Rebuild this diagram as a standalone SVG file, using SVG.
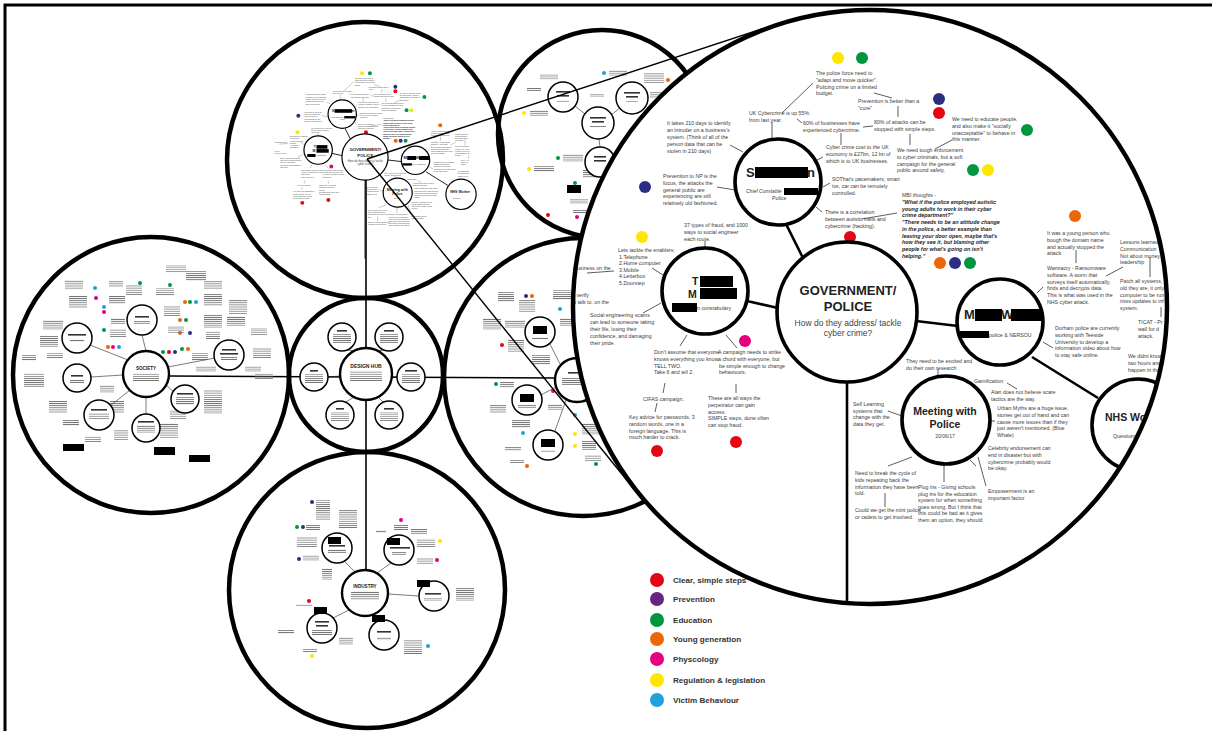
<svg xmlns="http://www.w3.org/2000/svg" width="1212" height="731" viewBox="0 0 1212 731">
<defs>
<style>
.ring{fill:none;stroke:#000;stroke-width:4.5}
.nd{fill:#fff;stroke:#000;stroke-width:1.5}
.hd{fill:#fff;stroke:#000;stroke-width:2.4}
.bn{fill:#fff;stroke:#000;stroke-width:3.6}
.ln{stroke:#000;stroke-width:1.6;fill:none}
.zl{stroke:#000;stroke-width:1.4;fill:none}
.sl{stroke:#222;stroke-width:0.6;fill:none}
.ml{stroke:#000;stroke-width:2.6;fill:none}
.nl{stroke:#333;stroke-width:0.8;fill:none}
.tb{fill:url(#tx);opacity:.85}
.tt{fill:#333}
.n{font-family:"Liberation Sans",Arial,sans-serif;font-size:5.25px;fill:#3c3c3c}
.ni{font-family:"Liberation Sans",Arial,sans-serif;font-size:5px;font-style:italic;fill:#3c3c3c}
.bi{font-family:"Liberation Sans",Arial,sans-serif;font-size:5.4px;font-weight:bold;font-style:italic;fill:#1e1e1e}
.h{font-family:"Liberation Sans",Arial,sans-serif;font-weight:bold;fill:#222}
.hc{font-family:"Liberation Sans",Arial,sans-serif;font-weight:bold;fill:#222;text-anchor:middle}
.sc{font-family:"Liberation Sans",Arial,sans-serif;fill:#444;text-anchor:middle}
.lg{font-family:"Liberation Sans",Arial,sans-serif;font-size:8.1px;font-weight:bold;fill:#333}
.r{fill:#e30613}.b{fill:#2b2e83}.g{fill:#009640}.y{fill:#ffe500}.o{fill:#ec6608}.p{fill:#e5007e}.c{fill:#1fa3dd}.v{fill:#662483}
.k{fill:#000}
</style>
<pattern id="tx" width="8" height="2.1" patternUnits="userSpaceOnUse"><rect width="8" height="0.8" fill="#555"/></pattern>
<clipPath id="magclip"><circle cx="870" cy="307" r="297"/></clipPath>
</defs>

<rect width="1212" height="731" fill="#fff"/>

<!-- page frame -->
<g id="frame"><path d="M5 731V5H1212" fill="none" stroke="#000" stroke-width="3"/></g>

<!-- outer rings -->
<g id="rings">
<circle class="ring" cx="365" cy="160" r="138"/>
<circle class="ring" cx="602" cy="134" r="104"/>
<circle class="ring" cx="151" cy="375" r="138"/>
<circle class="ring" cx="366" cy="375" r="77"/>
<circle class="ring" cx="583" cy="377" r="139"/>
<circle class="ring" cx="367" cy="590" r="138"/>
</g>

<!-- links between the hubs -->
<g id="connectors">
<line class="ln" x1="366" y1="180" x2="366" y2="570"/>
<line class="ln" x1="169" y1="376" x2="556" y2="378"/>
<g class="sl">
<!-- society -->
<line x1="146" y1="351" x2="142" y2="335"/><line x1="128" y1="360" x2="90" y2="345"/><line x1="168" y1="367" x2="215" y2="358"/>
<line x1="123" y1="375" x2="91" y2="377"/><line x1="130" y1="390" x2="110" y2="406"/><line x1="146" y1="397" x2="146" y2="414"/><line x1="166" y1="385" x2="173" y2="391"/>
<!-- hub -->
<line x1="355" y1="351" x2="348" y2="350"/><line x1="378" y1="351" x2="383" y2="350"/><line x1="340" y1="376" x2="328" y2="377"/><line x1="392" y1="376" x2="397" y2="377"/><line x1="354" y1="397" x2="346" y2="402"/><line x1="378" y1="397" x2="383" y2="402"/>
<!-- industry -->
<line x1="355" y1="572" x2="344" y2="561"/><line x1="377" y1="573" x2="391" y2="563"/><line x1="388" y1="594" x2="419" y2="596"/><line x1="374" y1="615" x2="380" y2="620"/><line x1="349" y1="610" x2="333" y2="618"/>
<!-- upper right ring -->
<line x1="575" y1="106" x2="585" y2="114"/><line x1="620" y1="108" x2="611" y2="115"/><line x1="599" y1="139" x2="600" y2="147"/>
<!-- middle right ring -->
<line x1="560" y1="364" x2="550" y2="344"/><line x1="556" y1="387" x2="541" y2="395"/><line x1="566" y1="400" x2="555" y2="431"/>
</g>
</g>

<!-- society cluster -->
<g id="society">
<g id="society-dots">
<circle class="c" cx="95" cy="288" r="2"/><circle class="p" cx="96" cy="298" r="2"/><circle class="c" cx="104" cy="307" r="2"/><circle class="p" cx="104" cy="312" r="2"/><circle class="g" cx="104" cy="330" r="2"/>
<circle class="g" cx="140" cy="283" r="2"/><circle class="g" cx="170" cy="285" r="2"/><circle class="o" cx="185" cy="302" r="2"/><circle class="g" cx="190" cy="302" r="2"/><circle class="c" cx="196" cy="302" r="2"/>
<circle class="o" cx="180" cy="320" r="2"/><circle class="g" cx="186" cy="320" r="2"/><circle class="o" cx="180" cy="333" r="2"/><circle class="b" cx="190" cy="333" r="2"/>
<circle class="o" cx="108" cy="347" r="2"/><circle class="p" cx="113" cy="347" r="2"/><circle class="c" cx="119" cy="347" r="2"/>
<circle class="g" cx="163" cy="352" r="2"/><circle class="r" cx="169" cy="352" r="2"/><circle class="b" cx="175" cy="352" r="2"/><circle class="g" cx="182" cy="349" r="2"/><circle class="o" cx="188" cy="349" r="2"/>
</g>
<g id="society-notes">
<rect class="tb" x="65" y="280" width="18" height="10"/><rect class="tb" x="69" y="296" width="18" height="12"/><rect class="tb" x="43" y="320" width="20" height="10"/><rect class="tb" x="40" y="335" width="18" height="12"/>
<rect class="tb" x="47" y="353" width="16" height="6"/><rect class="tb" x="22" y="355" width="14" height="6"/><rect class="tb" x="24" y="373" width="20" height="14"/><rect class="tb" x="49" y="401" width="18" height="12"/>
<rect class="tb" x="63" y="420" width="16" height="6"/><rect class="tb" x="85" y="436" width="16" height="6"/><rect class="tb" x="109" y="281" width="14" height="6"/><rect class="tb" x="109" y="296" width="16" height="8"/>
<rect class="tb" x="111" y="318" width="14" height="6"/><rect class="tb" x="110" y="329" width="16" height="8"/><rect class="tb" x="126" y="285" width="16" height="10"/><rect class="tb" x="156" y="288" width="18" height="8"/>
<rect class="tb" x="166" y="265" width="20" height="8"/><rect class="tb" x="186" y="271" width="20" height="10"/><rect class="tb" x="204" y="281" width="18" height="8"/><rect class="tb" x="204" y="294" width="18" height="12"/>
<rect class="tb" x="229" y="300" width="18" height="14"/><rect class="tb" x="204" y="314" width="18" height="14"/><rect class="tb" x="227" y="316" width="18" height="10"/><rect class="tb" x="164" y="306" width="16" height="10"/>
<rect class="tb" x="168" y="326" width="16" height="8"/><rect class="tb" x="206" y="331" width="14" height="8"/><rect class="tb" x="251" y="328" width="16" height="8"/><rect class="tb" x="253" y="348" width="18" height="10"/>
<rect class="tb" x="192" y="353" width="16" height="8"/><rect class="tb" x="196" y="366" width="20" height="6"/><rect class="tb" x="245" y="366" width="16" height="6"/><rect class="tb" x="255" y="373" width="18" height="6"/>
<rect class="tb" x="204" y="390" width="18" height="24"/><rect class="tb" x="170" y="410" width="16" height="10"/><rect class="tb" x="110" y="401" width="14" height="12"/><rect class="tb" x="114" y="430" width="14" height="10"/>
<rect class="tb" x="160" y="423" width="18" height="16"/><rect class="tb" x="100" y="385" width="14" height="8"/>
<rect class="k" x="63" y="444" width="21" height="7"/><rect class="k" x="154" y="447" width="21" height="8"/><rect class="k" x="189" y="455" width="21" height="7"/>
</g>
<g id="society-hub"><circle class="hd" cx="146" cy="374" r="23"/><text class="hc" x="146" y="370" font-size="4.6">SOCIETY</text><rect class="tb" x="133" y="373" width="26" height="8"/></g>
<g id="society-statistics"><circle class="nd" cx="142" cy="320" r="15"/><rect class="tt" x="135" y="316" width="14" height="1.6"/><rect class="tb" x="134" y="321" width="16" height="3"/></g>
<g id="society-survey"><circle class="nd" cx="77" cy="338" r="15"/><rect class="tt" x="68" y="334" width="18" height="1.6"/><rect class="tb" x="70" y="339" width="14" height="3"/></g>
<g id="society-workshop"><circle class="nd" cx="229" cy="355" r="15"/><rect class="tt" x="222" y="349" width="14" height="1.6"/><rect class="tt" x="220" y="353" width="18" height="1.6"/><rect class="tb" x="221" y="357" width="16" height="3"/></g>
<g id="society-left"><circle class="nd" cx="77" cy="378" r="14"/><rect class="tt" x="71" y="375" width="12" height="1.6"/><rect class="tb" x="70" y="380" width="14" height="3"/></g>
<g id="society-lowleft"><circle class="nd" cx="99" cy="415" r="15"/><rect class="tt" x="91" y="409" width="16" height="1.6"/><rect class="tb" x="89" y="413" width="20" height="7"/></g>
<g id="society-low"><circle class="nd" cx="146" cy="428" r="14"/><rect class="tt" x="138" y="421" width="16" height="1.6"/><rect class="tb" x="137" y="425" width="18" height="8"/></g>
<g id="society-lowright"><circle class="nd" cx="185" cy="399" r="14"/><rect class="tt" x="177" y="393" width="16" height="1.6"/><rect class="tb" x="176" y="397" width="18" height="8"/></g>
</g>

<!-- design hub cluster -->
<g id="design-hub">
<g id="hub-centre"><circle class="hd" cx="366" cy="374" r="26"/><text class="hc" x="366" y="368" font-size="5">DESIGN HUB</text><rect class="tb" x="350" y="371" width="32" height="10"/></g>
<g id="hub-a"><circle class="nd" cx="342" cy="337" r="14"/><rect class="tt" x="337" y="330" width="10" height="1.6"/><rect class="tb" x="333" y="334" width="18" height="9"/></g>
<g id="hub-b"><circle class="nd" cx="389" cy="337" r="14"/><rect class="tt" x="384" y="330" width="10" height="1.6"/><rect class="tb" x="380" y="334" width="18" height="9"/></g>
<g id="hub-c"><circle class="nd" cx="314" cy="377" r="14"/><rect class="tt" x="310" y="370" width="8" height="1.6"/><rect class="tb" x="305" y="374" width="18" height="9"/></g>
<g id="hub-d"><circle class="nd" cx="411" cy="377" r="14"/><rect class="tt" x="405" y="370" width="12" height="1.6"/><rect class="tb" x="402" y="374" width="18" height="9"/></g>
<g id="hub-e"><circle class="nd" cx="340" cy="415" r="14"/><rect class="tt" x="336" y="408" width="8" height="1.6"/><rect class="tb" x="331" y="412" width="18" height="9"/></g>
<g id="hub-f"><circle class="nd" cx="389" cy="415" r="14"/><rect class="tt" x="384" y="408" width="10" height="1.6"/><rect class="tb" x="380" y="412" width="18" height="9"/></g>
</g>

<!-- industry cluster -->
<g id="industry">
<g id="industry-dots">
<circle class="b" cx="312" cy="502" r="2"/><circle class="g" cx="297" cy="527" r="2"/><circle class="b" cx="303" cy="527" r="2"/><circle class="b" cx="299" cy="559" r="2"/>
<circle class="p" cx="401" cy="520" r="2"/><circle class="y" cx="440" cy="541" r="2"/><circle class="p" cx="437" cy="560" r="2"/><circle class="r" cx="309" cy="601" r="2"/><circle class="y" cx="312" cy="656" r="2"/><circle class="c" cx="428" cy="646" r="2"/>
</g>
<g id="industry-notes">
<rect class="tb" x="316" y="500" width="14" height="20"/><rect class="tb" x="339" y="510" width="18" height="18"/><rect class="tb" x="306" y="524" width="14" height="6"/><rect class="tb" x="297" y="537" width="20" height="10"/>
<rect class="tb" x="303" y="555" width="16" height="6"/><rect class="tb" x="322" y="568" width="10" height="12"/><rect class="tb" x="376" y="530" width="10" height="3"/><rect class="tb" x="394" y="524" width="14" height="6"/>
<rect class="tb" x="411" y="529" width="16" height="5"/><rect class="tb" x="417" y="539" width="18" height="8"/><rect class="tb" x="417" y="558" width="16" height="6"/><rect class="tb" x="456" y="587" width="18" height="14"/>
<rect class="tb" x="296" y="604" width="16" height="3"/><rect class="tb" x="278" y="630" width="16" height="4"/><rect class="tb" x="303" y="648" width="14" height="5"/><rect class="tb" x="339" y="637" width="14" height="8"/>
<rect class="tb" x="404" y="640" width="18" height="14"/>
</g>
<g id="industry-centre"><circle class="hd" cx="365" cy="593" r="23"/><text class="hc" x="365" y="588" font-size="4.6">INDUSTRY</text><rect class="tb" x="351" y="591" width="28" height="9"/></g>
<g id="industry-a"><circle class="nd" cx="337" cy="548" r="15"/><rect class="k" x="328" y="537" width="13" height="7"/><rect class="tt" x="329" y="545" width="16" height="1.6"/><rect class="tb" x="328" y="549" width="18" height="4"/></g>
<g id="industry-b"><circle class="nd" cx="399" cy="550" r="15"/><rect class="k" x="387" y="538" width="13" height="7"/><rect class="tt" x="390" y="547" width="20" height="1.6"/><rect class="tb" x="392" y="552" width="14" height="3"/></g>
<g id="industry-c"><circle class="nd" cx="434" cy="596" r="15"/><rect class="k" x="417" y="580" width="13" height="7"/><rect class="tt" x="425" y="593" width="16" height="1.6"/><rect class="tb" x="424" y="598" width="18" height="3"/></g>
<g id="industry-d"><circle class="nd" cx="384" cy="635" r="15"/><rect class="k" x="372" y="615" width="13" height="7"/><rect class="tt" x="377" y="631" width="14" height="1.6"/><rect class="tb" x="377" y="637" width="14" height="3"/></g>
<g id="industry-e"><circle class="nd" cx="322" cy="628" r="15"/><rect class="k" x="314" y="607" width="13" height="7"/><rect class="tt" x="315" y="621" width="14" height="1.6"/><rect class="tt" x="316" y="625" width="12" height="1.6"/><rect class="tb" x="312" y="630" width="20" height="5"/></g>
</g>

<!-- upper right ring contents -->
<g id="upper-ring">
<circle class="c" cx="604" cy="73" r="2"/><circle class="y" cx="524" cy="113" r="2"/><circle class="g" cx="558" cy="158" r="2"/><circle class="y" cx="529" cy="169" r="2"/><circle class="r" cx="548" cy="215" r="2"/><circle class="p" cx="577" cy="217" r="2"/><circle class="o" cx="668" cy="80" r="2"/><circle class="g" cx="575" cy="183" r="2"/>
<rect class="tb" x="540" y="74" width="18" height="6"/><rect class="tb" x="527" y="88" width="14" height="3"/><rect class="tb" x="609" y="70" width="18" height="6"/><rect class="tb" x="644" y="73" width="20" height="10"/>
<rect class="tb" x="590" y="94" width="14" height="3"/><rect class="tb" x="530" y="110" width="18" height="6"/><rect class="tb" x="563" y="154" width="20" height="8"/><rect class="tb" x="534" y="166" width="20" height="6"/>
<rect class="tb" x="583" y="170" width="14" height="8"/><rect class="tb" x="570" y="199" width="18" height="5"/><rect class="tb" x="573" y="210" width="14" height="3"/><rect class="tb" x="650" y="92" width="18" height="6"/>
<rect class="k" x="567" y="185" width="14" height="8"/>
<g id="upper-a"><circle class="nd" cx="563" cy="97" r="15"/><rect class="tt" x="556" y="91" width="14" height="1.6"/><rect class="tt" x="557" y="95" width="12" height="1.6"/><rect class="tb" x="557" y="100" width="12" height="2"/></g>
<g id="upper-b"><circle class="nd" cx="632" cy="98" r="16"/><rect class="tt" x="624" y="92" width="16" height="1.6"/><rect class="tt" x="626" y="96" width="12" height="1.6"/><rect class="tb" x="626" y="101" width="12" height="2"/></g>
<g id="upper-c"><circle class="nd" cx="598" cy="123" r="16"/><rect class="tt" x="590" y="117" width="16" height="1.6"/><rect class="tt" x="592" y="121" width="12" height="1.6"/><rect class="tb" x="590" y="126" width="16" height="2"/></g>
<g id="upper-d"><circle class="nd" cx="600" cy="162" r="15"/><rect class="tt" x="594" y="156" width="12" height="1.6"/><rect class="tt" x="594" y="160" width="12" height="1.6"/></g>
</g>

<!-- middle right ring contents -->
<g id="mid-ring">
<circle class="b" cx="526" cy="296" r="2"/><circle class="o" cx="532" cy="296" r="2"/><circle class="c" cx="560" cy="309" r="2"/><circle class="r" cx="502" cy="345" r="2"/><circle class="g" cx="496" cy="384" r="2"/><circle class="p" cx="553" cy="391" r="2"/>
<circle class="c" cx="575" cy="415" r="2"/><circle class="c" cx="523" cy="433" r="2"/><circle class="y" cx="575" cy="434" r="2"/><circle class="y" cx="575" cy="446" r="2"/><circle class="o" cx="527" cy="466" r="2"/><circle class="g" cx="596" cy="464" r="2"/>
<rect class="tb" x="498" y="292" width="16" height="10"/><rect class="tb" x="519" y="300" width="16" height="12"/><rect class="tb" x="553" y="290" width="18" height="10"/><rect class="tb" x="483" y="318" width="18" height="12"/>
<rect class="tb" x="505" y="320" width="20" height="8"/><rect class="tb" x="508" y="340" width="16" height="12"/><rect class="tb" x="560" y="318" width="14" height="8"/><rect class="tb" x="532" y="355" width="18" height="10"/>
<rect class="tb" x="500" y="382" width="14" height="6"/><rect class="tb" x="490" y="405" width="16" height="8"/><rect class="tb" x="512" y="420" width="18" height="8"/><rect class="tb" x="548" y="404" width="14" height="6"/>
<rect class="tb" x="582" y="423" width="18" height="12"/><rect class="tb" x="582" y="440" width="14" height="10"/><rect class="tb" x="505" y="447" width="16" height="4"/><rect class="tb" x="510" y="460" width="14" height="3"/><rect class="tb" x="585" y="455" width="16" height="6"/>
<g id="mid-centre"><circle class="hd" cx="577" cy="380" r="22"/><rect class="tt" x="568" y="372" width="16" height="1.6"/><rect class="tb" x="562" y="377" width="28" height="8"/></g>
<g id="mid-a"><circle class="nd" cx="540" cy="332" r="15"/><rect class="k" x="533" y="326" width="14" height="8"/><rect class="tb" x="532" y="337" width="16" height="2"/></g>
<g id="mid-b"><circle class="nd" cx="527" cy="400" r="15"/><rect class="k" x="520" y="394" width="14" height="8"/><rect class="tb" x="518" y="405" width="18" height="3"/></g>
<g id="mid-c"><circle class="nd" cx="548" cy="445" r="15"/><rect class="k" x="541" y="439" width="14" height="8"/><rect class="tb" x="541" y="450" width="14" height="2"/></g>
</g>

<!-- reduced copy of the government / police map -->
<g id="gov-mini">
<use href="#mag" transform="translate(365 157) scale(0.33) translate(-847 -312)"/>
</g>

<!-- lines from the small map to its enlargement -->
<g id="zoom-lines">
<line class="zl" x1="367" y1="159" x2="777" y2="24"/>
<line class="zl" x1="367" y1="159" x2="638" y2="494"/>
</g>

<!-- colour key -->
<g id="legend">
<circle class="r" cx="657" cy="580" r="7"/><text class="lg" x="673" y="583">Clear, simple steps</text>
<circle class="v" cx="657" cy="599" r="7"/><text class="lg" x="673" y="602">Prevention</text>
<circle class="g" cx="657" cy="620" r="7"/><text class="lg" x="673" y="623">Education</text>
<circle class="o" cx="657" cy="639" r="7"/><text class="lg" x="673" y="642">Young generation</text>
<circle class="p" cx="657" cy="659" r="7"/><text class="lg" x="673" y="662">Physcology</text>
<circle class="y" cx="657" cy="680" r="7"/><text class="lg" x="673" y="683">Regulation &amp; legislation</text>
<circle class="c" cx="657" cy="700" r="7"/><text class="lg" x="673" y="703">Victim Behaviour</text>
</g>

<!-- enlarged government / police map -->
<g id="magnifier">
<circle cx="870" cy="307" r="297" fill="#fff"/>
<g clip-path="url(#magclip)">
<g id="mag">
<g id="mag-links">
<line class="ml" x1="786" y1="224" x2="803" y2="258"/>
<line class="ml" x1="747" y1="301" x2="778" y2="308"/>
<line class="ml" x1="916" y1="321" x2="958" y2="326"/>
<line class="ml" x1="1032" y1="357" x2="1098" y2="398"/>
<line class="ml" x1="847" y1="382" x2="847" y2="620"/>
<g class="nl">
<line x1="772" y1="122" x2="772" y2="139"/><line x1="782" y1="113" x2="813" y2="83"/><line x1="797" y1="119" x2="802" y2="123"/>
<line x1="874" y1="93" x2="892" y2="98"/><line x1="898" y1="106" x2="898" y2="117"/><line x1="910" y1="134" x2="910" y2="145"/><line x1="935" y1="149" x2="952" y2="140"/>
<line x1="863" y1="127" x2="873" y2="126"/><line x1="841" y1="133" x2="841" y2="145"/><line x1="823" y1="157" x2="817" y2="160"/>
<line x1="730" y1="145" x2="743" y2="152"/><line x1="717" y1="187" x2="735" y2="190"/><line x1="823" y1="187" x2="830" y2="183"/><line x1="816" y1="207" x2="822" y2="212"/><line x1="862" y1="219" x2="897" y2="213"/>
<line x1="705" y1="241" x2="705" y2="249"/><line x1="652" y1="268" x2="663" y2="275"/><line x1="587" y1="273" x2="614" y2="271"/><line x1="643" y1="313" x2="661" y2="303"/>
<line x1="680" y1="346" x2="687" y2="335"/><line x1="737" y1="348" x2="726" y2="335"/><line x1="665" y1="383" x2="663" y2="393"/><line x1="657" y1="403" x2="655" y2="412"/><line x1="736" y1="384" x2="736" y2="393"/>
<line x1="888" y1="411" x2="902" y2="416"/><line x1="938" y1="369" x2="938" y2="376"/><line x1="972" y1="383" x2="968" y2="388"/><line x1="1007" y1="383" x2="1017" y2="389"/><line x1="989" y1="421" x2="995" y2="421"/>
<line x1="970" y1="460" x2="976" y2="466"/><line x1="888" y1="466" x2="912" y2="457"/><line x1="944" y1="464" x2="944" y2="482"/><line x1="885" y1="493" x2="885" y2="507"/><line x1="978" y1="457" x2="986" y2="486"/>
<line x1="1076" y1="250" x2="1076" y2="263"/><line x1="1037" y1="293" x2="1043" y2="287"/><line x1="1106" y1="276" x2="1123" y2="267"/><line x1="1150" y1="257" x2="1150" y2="277"/><line x1="1161" y1="307" x2="1161" y2="317"/><line x1="1043" y1="342" x2="1053" y2="348"/>
</g>
</g>

<g id="mag-dots">
<circle class="y" cx="838" cy="58" r="6"/><circle class="g" cx="862" cy="58" r="6"/>
<circle class="b" cx="939" cy="99" r="6"/><circle class="r" cx="939" cy="113" r="6"/>
<circle class="g" cx="1027" cy="130" r="6"/>
<circle class="g" cx="973" cy="170" r="6"/><circle class="y" cx="988" cy="170" r="6"/>
<circle class="b" cx="645" cy="187" r="6"/>
<circle class="r" cx="850" cy="237" r="6"/>
<circle class="y" cx="642" cy="237" r="6"/>
<circle class="o" cx="1075" cy="216" r="6"/>
<circle class="o" cx="940" cy="263" r="6"/><circle class="b" cx="955" cy="263" r="6"/><circle class="g" cx="970" cy="263" r="6"/>
<circle class="p" cx="745" cy="341" r="6"/>
<circle class="r" cx="657" cy="451" r="6"/><circle class="r" cx="736" cy="442" r="6"/>
</g>

<g id="mag-notes">
<text class="n" x="816" y="75"><tspan x="816">The police force need to</tspan><tspan x="816" dy="6.8">&quot;adapt and move quicker&quot;.</tspan><tspan x="816" dy="6.8">Policing crime on a limited</tspan><tspan x="816" dy="6.8">budget.</tspan></text>
<text class="n" x="858" y="103"><tspan x="858">Prevention is better than a</tspan><tspan x="858" dy="6.8">&quot;cure&quot;</tspan></text>
<text class="n" x="749" y="115"><tspan x="749">UK Cybercrime is up 55%</tspan><tspan x="749" dy="6.8">from last year.</tspan></text>
<text class="n" x="803" y="125"><tspan x="803">60% of businesses have</tspan><tspan x="803" dy="6.8">experienced cybercrime.</tspan></text>
<text class="n" x="874" y="124"><tspan x="874">80% of attacks can be</tspan><tspan x="874" dy="6.8">stopped with simple steps.</tspan></text>
<text class="n" x="952" y="121"><tspan x="952">We need to educate people,</tspan><tspan x="952" dy="6.8">and also make it &quot;socially</tspan><tspan x="952" dy="6.8">unacceptable&quot; to behave in</tspan><tspan x="952" dy="6.8">this manner.</tspan></text>
<text class="n" x="897" y="152"><tspan x="897">We need tough enforcement</tspan><tspan x="897" dy="6.8">to cyber criminals, but a soft</tspan><tspan x="897" dy="6.8">campaign for the general</tspan><tspan x="897" dy="6.8">public around safety.</tspan></text>
<text class="n" x="667" y="125"><tspan x="667">It takes 210 days to identify</tspan><tspan x="667" dy="7">an intruder on a business's</tspan><tspan x="667" dy="7">system. (Think of all of the</tspan><tspan x="667" dy="7">person data that can be</tspan><tspan x="667" dy="7">stolen in 210 days)</tspan></text>
<text class="n" x="826" y="149"><tspan x="826">Cyber crime cost to the UK</tspan><tspan x="826" dy="6.8">economy is £27bn, 12 bn of</tspan><tspan x="826" dy="6.8">which is to UK businesses.</tspan></text>
<text class="n" x="663" y="178"><tspan x="663">Prevention to NP is the</tspan><tspan x="663" dy="6.8">focus, the attacks the</tspan><tspan x="663" dy="6.8">general public are</tspan><tspan x="663" dy="6.8">experiencing are still</tspan><tspan x="663" dy="6.8">relatively old fashioned.</tspan></text>
<text class="n" x="832" y="181"><tspan x="832">SOThat's pacemakers, smart</tspan><tspan x="832" dy="6.8">tvs, car can be remotely</tspan><tspan x="832" dy="6.8">controlled.</tspan></text>
<text class="n" x="825" y="214"><tspan x="825">There is a correlation</tspan><tspan x="825" dy="6.8">between autistic traits and</tspan><tspan x="825" dy="6.8">cybercrime (hacking).</tspan></text>
<text class="n" x="902" y="197">MBI thoughts -</text>
<text class="bi" x="902" y="204"><tspan x="902">&quot;What if the police employed autistic</tspan><tspan x="902" dy="6.7">young adults to work in their cyber</tspan><tspan x="902" dy="6.7">crime department?&quot;</tspan><tspan x="902" dy="6.7">&quot;There needs to be an attitude change</tspan><tspan x="902" dy="6.7">in the police, a better example than</tspan><tspan x="902" dy="6.7">leaving your door open, maybe that's</tspan><tspan x="902" dy="6.7">how they see it, but blaming other</tspan><tspan x="902" dy="6.7">people for what's going on isn't</tspan><tspan x="902" dy="6.7">helping.&quot;</tspan></text>
<text class="n" x="684" y="227"><tspan x="684">37 types of fraud, and 1000</tspan><tspan x="684" dy="6.8">ways to social engineer</tspan><tspan x="684" dy="6.8">each route.</tspan></text>
<text class="n" x="618" y="252"><tspan x="618">Lets tackle the enablers:</tspan><tspan x="619" dy="6.6">1.Telephone</tspan><tspan x="619" dy="6.6">2.Home computer</tspan><tspan x="619" dy="6.6">3.Mobile</tspan><tspan x="619" dy="6.6">4.Letterbox</tspan><tspan x="619" dy="6.6">5.Doorstep</tspan></text>
<text class="n" x="574" y="270">business on the</text>
<text class="n" x="572" y="297"><tspan x="572">o verify</tspan><tspan x="573" dy="7">u talk to. on the</tspan></text>
<text class="n" x="590" y="317"><tspan x="590">Social engineering scams</tspan><tspan x="590" dy="7">can lead to someone taking</tspan><tspan x="590" dy="7">their life, losing their</tspan><tspan x="590" dy="7">confidence, and damaging</tspan><tspan x="590" dy="7">their pride.</tspan></text>
<text class="n" x="654" y="354"><tspan x="654">Don't assume that everyone</tspan><tspan x="654" dy="6.8">knows everything you know.</tspan><tspan x="654" dy="6.8">TELL TWO.</tspan><tspan x="654" dy="6.8">Take 6 and tell 2.</tspan></text>
<text class="n" x="718" y="354"><tspan x="718">A campaign needs to strike</tspan><tspan x="718" dy="6.8">a chord with everyone, but</tspan><tspan x="719" dy="6.8">be simple enough to change</tspan><tspan x="719" dy="6.8">behaviours.</tspan></text>
<text class="n" x="643" y="401">CIFAS campaign.</text>
<text class="n" x="629" y="419"><tspan x="629">Key advice for passwords, 3</tspan><tspan x="629" dy="6.8">random words, one in a</tspan><tspan x="629" dy="6.8">foreign language. This is</tspan><tspan x="629" dy="6.8">much harder to crack.</tspan></text>
<text class="n" x="708" y="400"><tspan x="708">These are all ways the</tspan><tspan x="708" dy="6.8">perpetrator can gain</tspan><tspan x="708" dy="6.8">access.</tspan><tspan x="708" dy="6.8">SIMPLE steps, done often</tspan><tspan x="708" dy="6.8">can stop fraud.</tspan></text>
<text class="n" x="853" y="406"><tspan x="853">Self Learning</tspan><tspan x="853" dy="6.6">systems that</tspan><tspan x="853" dy="6.6">change with the</tspan><tspan x="853" dy="6.6">data they get.</tspan></text>
<text class="n" x="906" y="363"><tspan x="906">They need to be excited and</tspan><tspan x="906" dy="6.8">do their own research</tspan></text>
<text class="n" x="974" y="383">Gamification</text>
<text class="n" x="991" y="394"><tspan x="991">Alan does not believe scare</tspan><tspan x="991" dy="6.8">tactics are the way.</tspan></text>
<text class="n" x="997" y="410"><tspan x="997">Urban Myths are a huge issue,</tspan><tspan x="997" dy="6.8">stories get out of hand and can</tspan><tspan x="997" dy="6.8">cause more issues than if they</tspan><tspan x="997" dy="6.8">just weren't mentioned. (Blue</tspan><tspan x="997" dy="6.8">Whale)</tspan></text>
<text class="n" x="988" y="450"><tspan x="988">Celebrity endorsement can</tspan><tspan x="988" dy="6.8">end in disaster but with</tspan><tspan x="988" dy="6.8">cybercrime probably would</tspan><tspan x="988" dy="6.8">be okay.</tspan></text>
<text class="n" x="988" y="493"><tspan x="988">Empowerment is an</tspan><tspan x="988" dy="6.8">important factor</tspan></text>
<text class="n" x="855" y="475"><tspan x="855">Need to break the cycle of</tspan><tspan x="855" dy="6.8">kids repeating back the</tspan><tspan x="855" dy="6.8">information they have been</tspan><tspan x="855" dy="6.8">told.</tspan></text>
<text class="n" x="855" y="512"><tspan x="855">Could we get the mini police</tspan><tspan x="855" dy="6.8">or cadets to get involved.</tspan></text>
<text class="n" x="918" y="489"><tspan x="918">Plug ins - Giving schools</tspan><tspan x="918" dy="6.6">plug ins for the education</tspan><tspan x="918" dy="6.6">system for when something</tspan><tspan x="918" dy="6.6">goes wrong. But I think that</tspan><tspan x="918" dy="6.6">this could be bad as it gives</tspan><tspan x="918" dy="6.6">them an option, they should</tspan></text>
<text class="n" x="1047" y="235"><tspan x="1047">It was a young person who</tspan><tspan x="1047" dy="6.8">bough the domain name</tspan><tspan x="1047" dy="6.8">and actually stopped the</tspan><tspan x="1047" dy="6.8">attack.</tspan></text>
<text class="n" x="1047" y="270"><tspan x="1047">Wannacry - Ransomware</tspan><tspan x="1047" dy="6.8">software. A worm that</tspan><tspan x="1047" dy="6.8">surveys itself automatically,</tspan><tspan x="1047" dy="6.8">finds and decrypts data.</tspan><tspan x="1047" dy="6.8">This is what was used in the</tspan><tspan x="1047" dy="6.8">NHS cyber attack.</tspan></text>
<text class="n" x="1120" y="244"><tspan x="1120">Lessons learned -</tspan><tspan x="1120" dy="6.8">Communication</tspan><tspan x="1120" dy="6.8">Not about money</tspan><tspan x="1120" dy="6.8">leadership</tspan></text>
<text class="n" x="1120" y="283"><tspan x="1120">Patch all systems,</tspan><tspan x="1120" dy="6.8">old they are, it only</tspan><tspan x="1120" dy="6.8">computer to be run</tspan><tspan x="1120" dy="6.8">miss updates to inf</tspan><tspan x="1120" dy="6.8">system.</tspan></text>
<text class="n" x="1138" y="324"><tspan x="1138">TICAT - Pr</tspan><tspan x="1138" dy="6.8">wall for d</tspan><tspan x="1138" dy="6.8">attack.</tspan></text>
<text class="n" x="1128" y="358"><tspan x="1128">We didnt know</tspan><tspan x="1128" dy="6.8">two hours and</tspan><tspan x="1128" dy="6.8">happen in the</tspan></text>
<text class="n" x="1055" y="330"><tspan x="1055">Durham police are currently</tspan><tspan x="1055" dy="6.8">working with Teeside</tspan><tspan x="1055" dy="6.8">University to develop a</tspan><tspan x="1055" dy="6.8">information video about how</tspan><tspan x="1055" dy="6.8">to stay safe online.</tspan></text>
</g>

<g id="node-s">
<circle class="bn" cx="778" cy="182" r="43"/>
<text class="h" x="746" y="177" font-size="13">S</text><rect class="k" x="755" y="167" width="53" height="11"/><text class="h" x="807" y="177" font-size="13">n</text>
<text class="ni" x="746" y="193">Chief Constable</text><rect class="k" x="784" y="188" width="34" height="7"/>
<text class="n" x="772" y="200">Police</text>
</g>
<g id="node-t">
<circle class="bn" cx="705" cy="291" r="43"/>
<text class="h" x="692" y="284.5" font-size="10.5">T</text><rect class="k" x="700" y="276" width="33" height="11"/>
<text class="h" x="688" y="297.5" font-size="10.5">M</text><rect class="k" x="700" y="288" width="37" height="11"/>
<rect class="k" x="672" y="303" width="25" height="9"/><text class="n" x="697" y="310">n constabulary</text>
</g>
<g id="node-m">
<circle class="bn" cx="1000" cy="322" r="43"/>
<text class="h" x="964" y="319" font-size="13">M</text><rect class="k" x="975" y="309" width="27" height="12"/>
<text class="h" x="1001" y="319" font-size="13">W</text><rect class="k" x="1011" y="309" width="32" height="12"/>
<rect class="k" x="960" y="331" width="29" height="7"/><text class="n" x="989" y="337">police &amp; NERSOU</text>
</g>
<g id="node-meeting">
<circle class="bn" cx="946" cy="420" r="44"/>
<text class="hc" x="945" y="415" font-size="10.5">Meeting with</text>
<text class="hc" x="945" y="428" font-size="10.5">Police</text>
<text class="sc" x="945" y="438" font-size="5">20/06/17</text>
</g>
<g id="node-nhs">
<circle class="bn" cx="1138" cy="425" r="46"/>
<text class="h" x="1105" y="421" font-size="10.5">NHS Worker</text>
<text class="n" x="1113" y="438">Questions</text>
</g>
<g id="node-gov">
<circle class="bn" cx="847" cy="312" r="70" stroke-width="6"/>
<text class="hc" x="848" y="295" font-size="13">GOVERNMENT/</text>
<text class="hc" x="848" y="311" font-size="13">POLICE</text>
<text class="sc" x="848" y="326" font-size="8.5">How do they address/ tackle</text>
<text class="sc" x="848" y="336" font-size="8.5">cyber crime?</text>
</g>
</g>
</g>
<circle cx="870" cy="307" r="297" fill="none" stroke="#000" stroke-width="4.5"/>
</g>
</svg>
